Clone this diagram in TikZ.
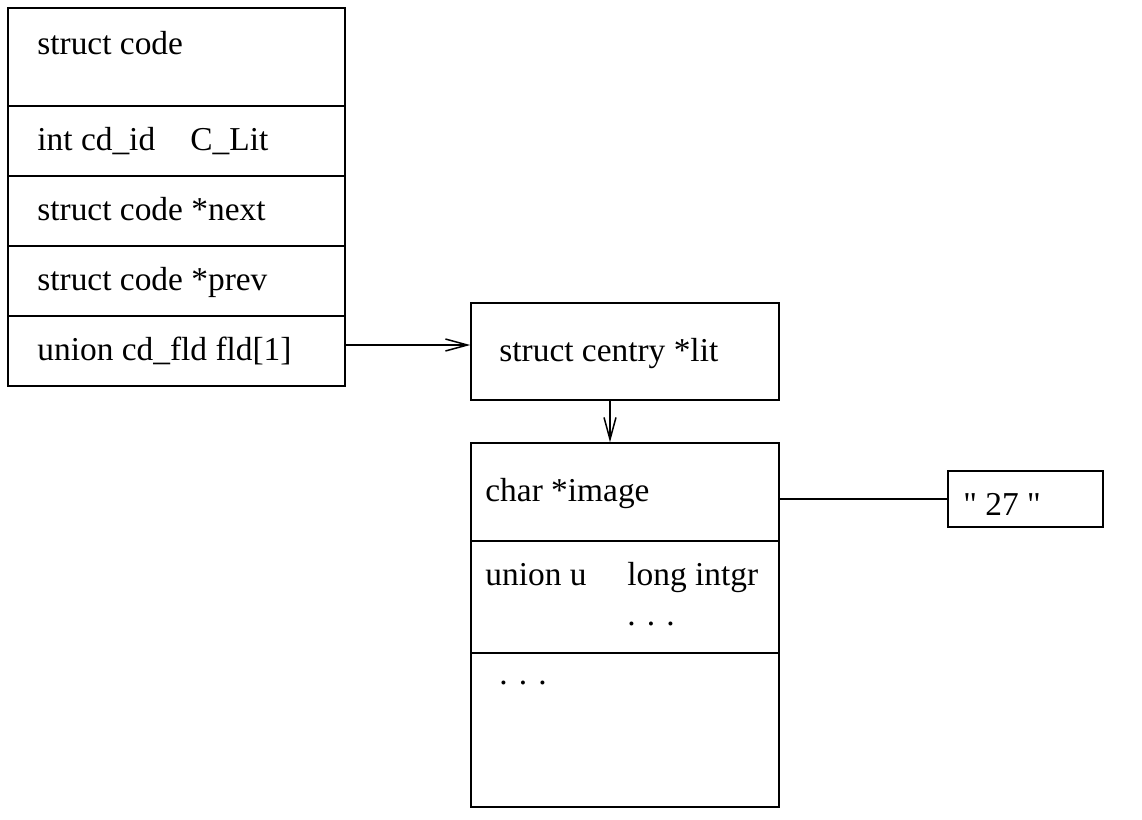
\documentclass[tikz,border=0pt]{standalone}
\usepackage{fontspec}
\setmainfont{Liberation Serif}
\newfontfamily\qfont{Liberation Serif}[Ligatures=ResetAll]
\usetikzlibrary{arrows.meta}
\begin{document}
\begin{tikzpicture}[x=0.5pt,y=-0.5pt,
  cell/.style={draw,line width=0.75pt,rectangle,inner sep=0pt},
  txt/.style={anchor=base west,inner sep=0pt,yshift=-1.25pt,font=\fontsize{16.7}{20}\selectfont},
  arr/.style={line width=0.75pt,-{Straight Barb[length=11pt,width=6pt,line width=0.75pt]}},
  conn/.style={line width=0.75pt}]
\useasboundingbox (0,0) rectangle (1142,820);
% left struct
\node[cell,minimum width=168.5pt,minimum height=49pt] (r0) at (176.5,57) {};
\node[cell,minimum width=168.5pt,minimum height=35pt] (r1) at (176.5,141) {};
\node[cell,minimum width=168.5pt,minimum height=35pt] (r2) at (176.5,211) {};
\node[cell,minimum width=168.5pt,minimum height=35pt] (r3) at (176.5,281) {};
\node[cell,minimum width=168.5pt,minimum height=35pt] (r4) at (176.5,351) {};
\node[txt] (t0) at (37,52) {struct code};
\node[txt] (t1) at (37,148) {int cd\_id};
\node[txt] (t1b) at (190,148) {C\_Lit};
\node[txt] (t2) at (37,218) {struct code *next};
\node[txt] (t3) at (37,288) {struct code *prev};
\node[txt] (t4) at (37,358) {union cd\_fld fld[1]};
% centry pointer
\node[cell,minimum width=154pt,minimum height=48.5pt] (ce) at (625,351.5) {};
\node[txt] (tce) at (499,359) {struct centry *lit};
% centry struct
\node[cell,minimum width=154pt,minimum height=49pt] (b0) at (625,492) {};
\node[cell,minimum width=154pt,minimum height=56pt] (b1) at (625,597) {};
\node[cell,minimum width=154pt,minimum height=77pt] (b2) at (625,730) {};
\node[txt] (tb0) at (485,499) {char *image};
\node[txt] (tb1) at (485,583) {union u};
\node[txt] (tb1b) at (627,583) {long intgr};
\node[txt] (tb1c) at (627,623) {.\,\,.\,\,.};
\node[txt] (tb2) at (499,682) {.\,\,.\,\,.};
% string
\node[cell,minimum width=77.5pt,minimum height=28pt] (str) at (1025.5,499) {};
\node[txt] (tstr) at (963,513) {\qfont " 27 "};
% connectors
\draw[arr] (r4.east |- 0,345) -- (ce.west |- 0,345);
\draw[arr] (ce.south -| 610,0) -- (b0.north -| 610,0);
\draw[conn] (b0.east |- str.west) -- (str.west);
\end{tikzpicture}
\end{document}
